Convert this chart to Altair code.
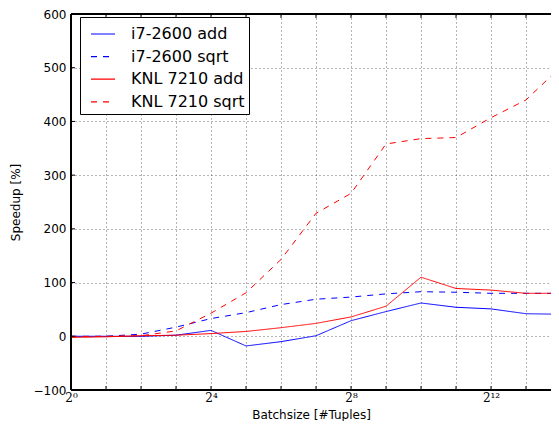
import altair as alt
import pandas as pd

batch = [1, 2, 4, 8, 16, 32, 64, 128, 256, 512, 1024, 2048, 4096, 8192, 16384]
series_names = ["i7-2600 add", "i7-2600 sqrt", "KNL 7210 add", "KNL 7210 sqrt"]
i7_add = [0, 0, 0, 2, 11, -18, -10, 1, 29, 46, 62, 54, 51, 42, 41]
i7_sqrt = [0, 0, 4, 17, 33, 44, 59, 69, 73, 79, 83, 82, 80, 80, 80]
knl_add = [-2, -1, 1, 2, 5, 9, 16, 24, 36, 56, 110, 89, 86, 80, 80]
knl_sqrt = [-1, 0, 1, 10, 43, 81, 143, 229, 266, 358, 368, 370, 407, 440, 502]
y_ticks = [-100, 0, 100, 200, 300, 400, 500, 600]

rows = []
for name, vals in zip(series_names, [i7_add, i7_sqrt, knl_add, knl_sqrt]):
    for b, v in zip(batch, vals):
        rows.append({"batch": b, "speedup": v, "series": name})
df = pd.DataFrame(rows)

# plot area; the right edge of the original axes falls just outside the window
W, H = 480, 376
XMAX = 13438  # visible part of the 2^0..2^14 axis
xscale = alt.Scale(type="log", base=2, domain=[1, XMAX], nice=False)
yscale = alt.Scale(domain=[-100, 600], nice=False, zero=False)
xvals = [b for b in batch if b <= XMAX]

xlabel = ("round(log(datum.value)/log(2)) == 0 ? '2\u2070' : "
          "round(log(datum.value)/log(2)) == 4 ? '2\u2074' : "
          "round(log(datum.value)/log(2)) == 8 ? '2\u2078' : "
          "round(log(datum.value)/log(2)) == 12 ? '2\u00b9\u00b2' : ''")
ylabel = "datum.value < 0 ? '\u2212' + abs(datum.value) : '' + datum.value"

xaxis = alt.Axis(
    values=xvals, labelExpr=xlabel, title="Batchsize [#Tuples]",
    grid=True, gridDash=[1, 3], gridColor="#444", gridWidth=0.8,
    ticks=False, domain=False, labelFont="DejaVu Serif", labelFontSize=12,
    labelPadding=2, titleBaseline="alphabetic", titleY=28, labelFlush=False)
yaxis = alt.Axis(
    values=y_ticks, labelExpr=ylabel, title="Speedup [%]",
    grid=True, gridDash=[1, 3], gridColor="#444", gridWidth=0.8,
    ticks=False, domain=False, labelPadding=5, titlePadding=11)

leg = alt.Legend(
    orient="none", legendX=9, legendY=3, title=None,
    strokeColor="black", fillColor="white", padding=4, cornerRadius=0,
    symbolType="stroke", symbolSize=576, symbolStrokeWidth=1.2,
    labelFont="DejaVu Sans", labelFontSize=16, labelColor="black",
    labelOffset=15, rowPadding=1.6, symbolOffset=6,
)

lines = alt.Chart(df).mark_line(strokeWidth=1, clip=True).encode(
    x=alt.X("batch:Q", scale=xscale, axis=xaxis),
    y=alt.Y("speedup:Q", scale=yscale, axis=yaxis),
    color=alt.Color("series:N", scale=alt.Scale(domain=series_names,
                    range=["#0000ff", "#0000ff", "#ff0000", "#ff0000"]), legend=leg),
    strokeDash=alt.StrokeDash("series:N", scale=alt.Scale(domain=series_names,
                    range=[[1, 0], [6, 6], [1, 0], [6, 6]]), legend=leg),
)

xt = pd.DataFrame({"batch": xvals})
yt = pd.DataFrame({"speedup": y_ticks})
tx = alt.X("batch:Q", scale=xscale, axis=xaxis)
ty = alt.Y("speedup:Q", scale=yscale, axis=yaxis)
rule = dict(color="black", strokeWidth=1)
top_t = alt.Chart(xt).mark_rule(**rule).encode(x=tx, y=alt.value(0), y2=alt.value(4))
bot_t = alt.Chart(xt).mark_rule(**rule).encode(x=tx, y=alt.value(H), y2=alt.value(H - 4))
left_t = alt.Chart(yt).mark_rule(**rule).encode(y=ty, x=alt.value(0), x2=alt.value(4))
frame_l = alt.Chart(yt).mark_rule(**rule).encode(x=alt.value(0), y=alt.value(0), y2=alt.value(H))
frame_t = alt.Chart(yt).mark_rule(**rule).encode(y=alt.value(0), x=alt.value(0), x2=alt.value(W))
frame_b = alt.Chart(yt).mark_rule(**rule).encode(y=alt.value(H), x=alt.value(0), x2=alt.value(W))

chart = alt.layer(lines, top_t, bot_t, left_t, frame_l, frame_t, frame_b).properties(
    width=W, height=H, autosize="none",
    padding={"left": 63, "top": 6, "right": 0, "bottom": 31},
).configure_view(stroke=None).configure_axis(
    labelFont="DejaVu Sans", labelFontSize=12, labelColor="black",
    titleFont="DejaVu Sans", titleFontSize=12, titleFontWeight="normal", titleColor="black",
)

chart.save("out.html", embed_options={"renderer": "svg", "actions": False})
